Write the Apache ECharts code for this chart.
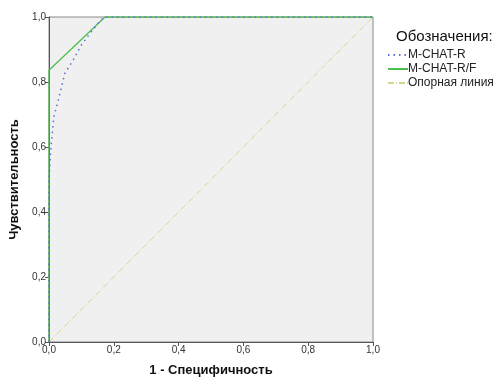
<!DOCTYPE html>
<html><head><meta charset="utf-8">
<script src="https://cdn.jsdelivr.net/npm/echarts@6/dist/echarts.min.js"></script>
<style>html,body{margin:0;padding:0;background:#fff}#c{width:502px;height:381px}</style>
</head><body><div id="c"></div>
<script>
var seriesNames = ['M-CHAT-R', 'M-CHAT-R/F', 'Опорная линия'];
var mchatR = [[0,0],[0,0.50],[0.006,0.60],[0.015,0.693],[0.029,0.745],[0.049,0.827],[0.075,0.868],[0.10,0.914],[0.127,0.95],[0.157,0.988],[0.173,1],[1,1]];
var mchatRF = [[0,0],[0,0.836],[0.173,1],[1,1]];
var refLine = [[0,0],[1,1]];
var tickLabels = ['0,0','0,2','0,4','0,6','0,8','1,0'];
var xTitle = '1 - Специфичность';
var yTitle = 'Чувствительность';
var legendTitle = 'Обозначения:';

function fmt(v){ return tickLabels[Math.round(v/0.2)] || ''; }
var font = 'Liberation Sans, Arial, sans-serif';
var chart = echarts.init(document.getElementById('c'));
chart.setOption({
  animation:false,
  title:{text:legendTitle,left:391,top:24,textStyle:{fontFamily:font,fontSize:15,fontWeight:'normal',color:'#111'}},
  legend:{orient:'vertical',left:382,top:44,itemWidth:20,itemHeight:8,itemGap:2,
    itemStyle:{opacity:0},
    textStyle:{fontFamily:font,fontSize:12,color:'#222',padding:[0,0,0,-5]},
    data:seriesNames},
  grid:{left:49,right:129,top:17,bottom:39,outerBoundsMode:'none',containLabel:false,show:true,backgroundColor:'#f0f0f0',borderColor:'#8a8a8a',borderWidth:1},
  xAxis:{type:'value',min:0,max:1,interval:0.2,name:xTitle,nameLocation:'middle',nameGap:22,
    nameTextStyle:{fontFamily:font,fontSize:13,fontWeight:'bold',color:'#111'},
    axisLine:{show:true,lineStyle:{color:'#555'}},axisTick:{show:true,length:4,lineStyle:{color:'#555'}},
    axisLabel:{formatter:fmt,fontFamily:font,fontSize:10,color:'#333',margin:3},splitLine:{show:false}},
  yAxis:{type:'value',min:0,max:1,interval:0.2,name:yTitle,nameLocation:'middle',nameGap:27,
    nameTextStyle:{fontFamily:font,fontSize:13,fontWeight:'bold',color:'#111'},
    axisLine:{show:true,lineStyle:{color:'#555'}},axisTick:{show:true,length:4,lineStyle:{color:'#555'}},
    axisLabel:{formatter:fmt,fontFamily:font,fontSize:10,color:'#333',margin:3},splitLine:{show:false}},
  series:[
    {name:seriesNames[2],type:'line',data:refLine,symbol:'none',z:2,lineStyle:{color:'#d4d48e',width:1,type:[6,2,1,2]},itemStyle:{color:'#d4d48e'}},
    {name:seriesNames[1],type:'line',data:mchatRF,symbol:'none',z:3,lineStyle:{color:'#4cbf4c',width:1.3},itemStyle:{color:'#4cbf4c'}},
    {name:seriesNames[0],type:'line',data:mchatR,symbol:'none',z:4,lineStyle:{color:'#5b6fd3',width:1.5,type:[1.5,4]},itemStyle:{color:'#5b6fd3'}}
  ]
});
</script></body></html>
